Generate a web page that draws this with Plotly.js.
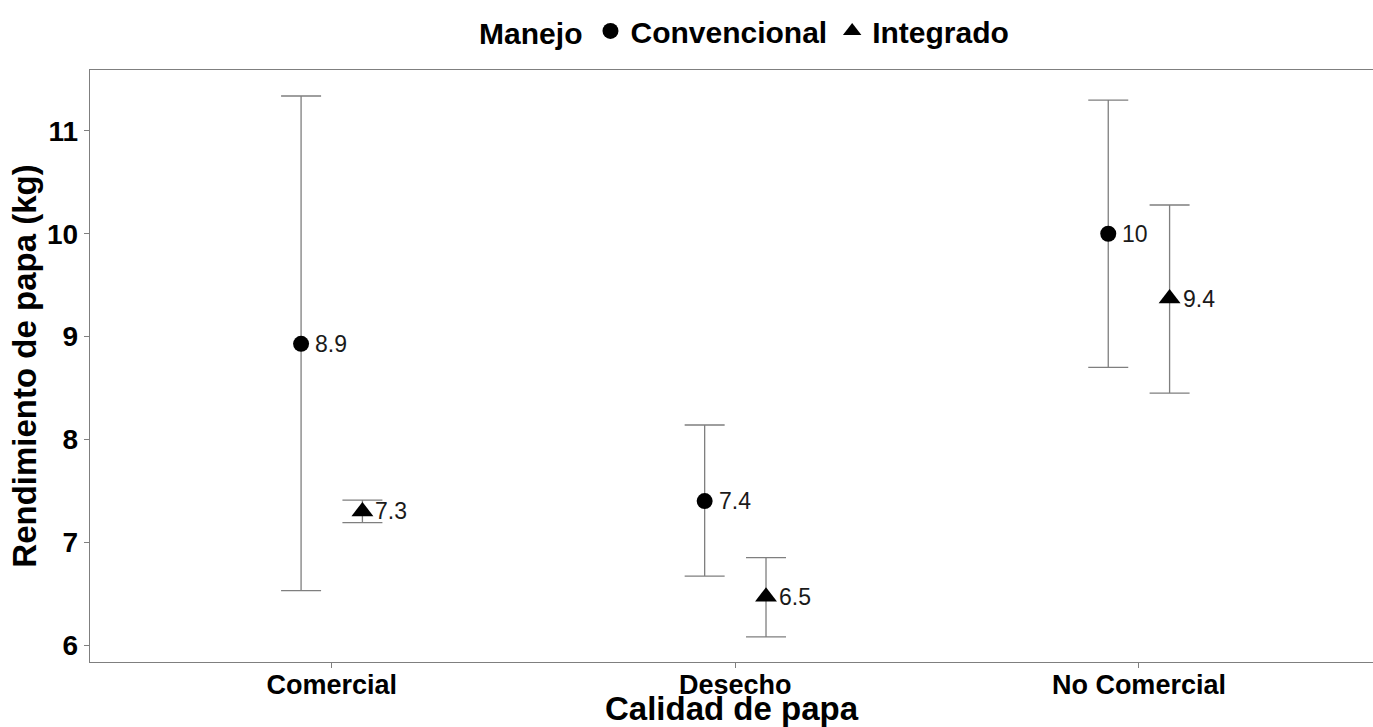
<!DOCTYPE html>
<html>
<head>
<meta charset="utf-8">
<script src="https://cdn.plot.ly/plotly-3.0.1.min.js"></script>
<style>html,body{margin:0;padding:0;background:#fff;}#chart{width:1373px;height:727px;}</style>
</head>
<body>
<div id="chart"></div>
<script>
// Data
const categories = ["Comercial", "Desecho", "No Comercial"];
const groups = ["Convencional", "Integrado"];
const convMean  = [8.93, 7.40, 10.00];
const convLower = [6.53, 6.67, 8.70];
const convUpper = [11.34, 8.14, 11.30];
const intMean   = [7.30, 6.47, 9.37];
const intLower  = [7.19, 6.08, 8.45];
const intUpper  = [7.41, 6.85, 10.28];
const convLabels = ["8.9", "7.4", "10"];
const intLabels  = ["7.3", "6.5", "9.4"];
const yTicks = [6, 7, 8, 9, 10, 11];

const dodge = 0.076;
const FONT = "Liberation Sans, Arial, Helvetica, sans-serif";

function makeTrace(name, mean, lower, upper, offset, symbol, size) {
  return {
    type: "scatter",
    mode: "markers",
    name: name,
    x: categories.map((c, i) => i + offset),
    y: mean,
    marker: {symbol: symbol, size: size, color: "#000000"},
    error_y: {
      type: "data",
      symmetric: false,
      array: mean.map((m, i) => upper[i] - m),
      arrayminus: mean.map((m, i) => m - lower[i]),
      color: "#7f7f7f",
      thickness: 1.3,
      width: 20
    },
    cliponaxis: false
  };
}

function makeLabels(mean, labels, offset, shift) {
  return mean.map((m, i) => ({
    x: i + offset, y: m, xref: "x", yref: "y",
    text: labels[i], showarrow: false,
    xanchor: "left", yanchor: "middle", xshift: shift,
    font: {family: FONT, size: 23, color: "#1a1a1a"}
  }));
}

const traces = [
  makeTrace(groups[0], convMean, convLower, convUpper, -dodge, "circle", 16),
  makeTrace(groups[1], intMean, intLower, intUpper, dodge, "triangle-up", 19)
];

const layout = {
  width: 1373,
  height: 727,
  margin: {l: 90, r: 0, t: 70, b: 65},
  paper_bgcolor: "#ffffff",
  plot_bgcolor: "#ffffff",
  font: {family: FONT, color: "#000000"},
  showlegend: true,
  legend: {
    orientation: "h",
    x: 0.511, xanchor: "center",
    y: 1.066, yanchor: "middle",
    title: {text: "<b>Manejo</b>", side: "left", font: {family: FONT, size: 30, color: "#000"}},
    font: {family: FONT, size: 30, color: "#000", weight: "bold"},
    itemwidth: 30,
    itemclick: false,
    tracegroupgap: 0
  },
  annotations: makeLabels(convMean, convLabels, -dodge, 12).concat(makeLabels(intMean, intLabels, dodge, 11)),
  xaxis: {
    range: [-0.599, 2.58],
    tickmode: "array",
    tickvals: categories.map((c, i) => i),
    ticktext: categories.map(c => "<b>" + c + "</b>"),
    tickfont: {family: FONT, size: 27, color: "#000"},
    ticklabelstandoff: -7,
    ticks: "outside", ticklen: 5, tickcolor: "#7f7f7f", tickwidth: 1,
    showgrid: false, zeroline: false,
    showline: true, linecolor: "#7f7f7f", linewidth: 1.2, mirror: true,
    title: {text: "<b>Calidad de papa</b>", font: {family: FONT, size: 33, color: "#000"}, standoff: 6}
  },
  yaxis: {
    range: [5.835, 11.593],
    tickmode: "array",
    tickvals: yTicks,
    ticktext: yTicks.map(v => "<b>" + v + "</b>"),
    tickfont: {family: FONT, size: 28, color: "#000"},
    ticks: "outside", ticklen: 5, tickcolor: "#7f7f7f", tickwidth: 1,
    showgrid: false, zeroline: false,
    showline: true, linecolor: "#7f7f7f", linewidth: 1.2, mirror: true,
    title: {text: "<b>Rendimiento de papa (kg)</b>", font: {family: FONT, size: 33, color: "#000"}, standoff: 0}
  }
};

Plotly.newPlot("chart", traces, layout, {displayModeBar: false, staticPlot: true});
</script>
</body>
</html>
